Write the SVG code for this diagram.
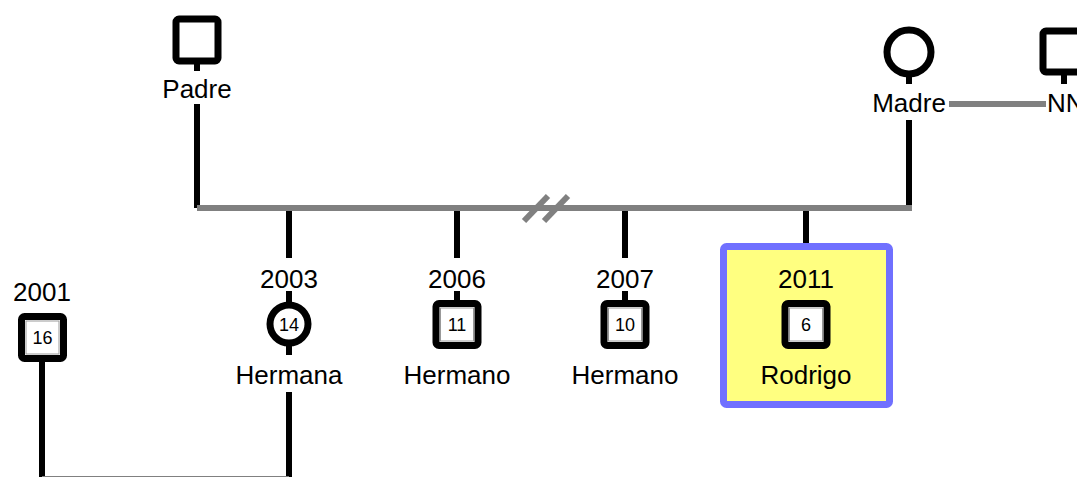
<svg xmlns="http://www.w3.org/2000/svg" width="1077" height="477" viewBox="0 0 1077 477">
<style>
.t{font-family:"Liberation Sans",Arial,sans-serif;font-size:26px;fill:#000;text-anchor:middle}
.n{font-family:"Liberation Sans",Arial,sans-serif;font-size:18px;fill:#000;text-anchor:middle}
.sq{fill:#fff;stroke:#000;stroke-width:7}
.in{fill:#fff;stroke:#999;stroke-width:1}
.ci{fill:#fff;stroke:#000;stroke-width:7}
.bl{stroke:#000;stroke-width:6;fill:none}
.gr{stroke:#808080;stroke-width:6;fill:none}
</style>
<g id="connectors">
<line class="bl" x1="197" y1="104" x2="197" y2="208"/>
<line class="bl" x1="909" y1="120" x2="909" y2="208"/>
<line class="gr" x1="197" y1="208" x2="912" y2="208"/>
<line class="gr" x1="524" y1="221" x2="548" y2="196"/>
<line class="gr" x1="544" y1="221" x2="568" y2="196"/>
<line class="gr" x1="949" y1="104" x2="1046" y2="104"/>
<line class="bl" x1="289" y1="211" x2="289" y2="258"/>
<line class="bl" x1="457" y1="211" x2="457" y2="258"/>
<line class="bl" x1="625" y1="211" x2="625" y2="258"/>
<line class="bl" x1="806" y1="211" x2="806" y2="243"/>
<line class="bl" x1="42" y1="362" x2="42" y2="477"/>
<line class="bl" x1="289" y1="392" x2="289" y2="477"/>
<line stroke="#808080" stroke-width="1" x1="42" y1="476.5" x2="289" y2="476.5"/>
</g>
<g id="padre">
<line class="bl" x1="197" y1="62" x2="197" y2="71"/>
<rect class="sq" x="176" y="19" width="42" height="42" rx="3"/>
<text class="t" x="197" y="98">Padre</text>
</g>
<g id="madre">
<line class="bl" x1="909" y1="74" x2="909" y2="84"/>
<circle class="ci" cx="909" cy="52" r="22"/>
<text class="t" x="909" y="112">Madre</text>
</g>
<g id="nn">
<line class="bl" x1="1064" y1="73" x2="1064" y2="84"/>
<rect class="sq" x="1043" y="31" width="42" height="41" rx="3"/>
<text class="t" x="1047" y="112" style="text-anchor:start">NN</text>
</g>
<g id="p2001">
<text class="t" x="42" y="301">2001</text>
<rect class="sq" x="21.5" y="316.5" width="42" height="42" rx="3"/>
<rect class="in" x="26" y="321" width="33" height="33"/>
<text class="n" x="42.5" y="344">16</text>
</g>
<g id="hermana">
<text class="t" x="289" y="288">2003</text>
<line class="bl" x1="289" y1="291" x2="289" y2="302"/>
<circle class="ci" cx="289" cy="324" r="19"/>
<text class="n" x="289" y="331">14</text>
<line class="bl" x1="289" y1="346" x2="289" y2="355"/>
<text class="t" x="289" y="384">Hermana</text>
</g>
<g id="hermano2006">
<text class="t" x="457" y="288">2006</text>
<line class="bl" x1="457" y1="291" x2="457" y2="302"/>
<rect class="sq" x="436" y="303.5" width="42" height="42" rx="3"/>
<rect class="in" x="440.5" y="308" width="33" height="33"/>
<text class="n" x="457" y="331">11</text>
<text class="t" x="457" y="384">Hermano</text>
</g>
<g id="hermano2007">
<text class="t" x="625" y="288">2007</text>
<line class="bl" x1="625" y1="291" x2="625" y2="302"/>
<rect class="sq" x="604" y="303.5" width="42" height="42" rx="3"/>
<rect class="in" x="608.5" y="308" width="33" height="33"/>
<text class="n" x="625" y="331">10</text>
<text class="t" x="625" y="384">Hermano</text>
</g>
<g id="rodrigo">
<rect x="723.5" y="246.5" width="166" height="158" rx="3" fill="#ffff80" stroke="#7070ff" stroke-width="7"/>
<text class="t" x="806" y="288">2011</text>
<rect class="sq" x="785" y="303.5" width="42" height="42" rx="3"/>
<rect class="in" x="789.5" y="308" width="33" height="33"/>
<text class="n" x="806" y="331">6</text>
<text class="t" x="806" y="384">Rodrigo</text>
</g>
</svg>
